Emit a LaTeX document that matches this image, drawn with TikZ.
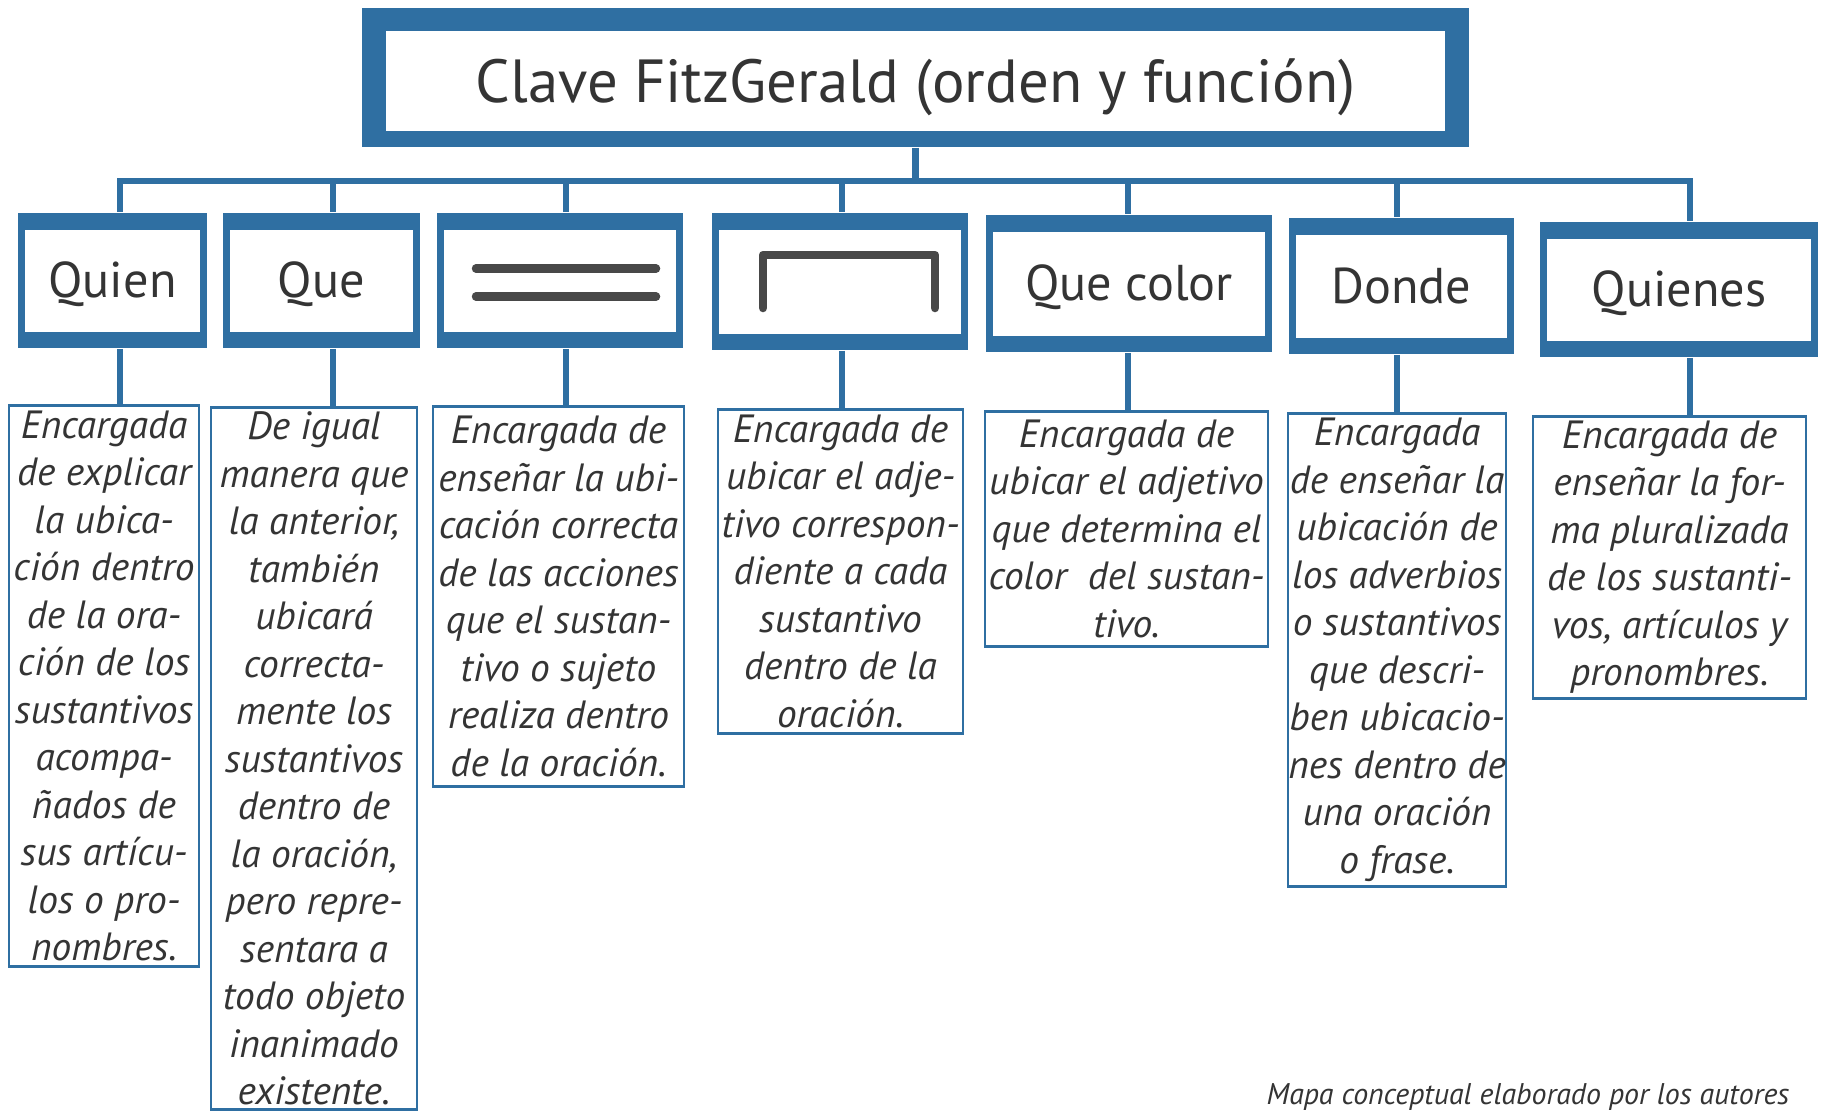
\documentclass[tikz,border=0pt]{standalone}
\usepackage{fontspec}
\setmainfont{PT Sans}

\definecolor{fitzblue}{RGB}{47,111,162}
\definecolor{ink}{RGB}{52,52,52}

\tikzset{
  link/.style={fitzblue, line width=0.065cm},
  hdrbox/.style={fill=fitzblue, inner sep=0pt, text=ink,
    text height=0.34cm, text depth=0cm,
    font=\fontsize{14.3}{17}\selectfont,
    path picture={\fill[white]
      ([shift={(0.07cm,-0.17cm)}]path picture bounding box.north west) rectangle
      ([shift={(-0.07cm,0.16cm)}]path picture bounding box.south east);}},
  titlebox/.style={fill=fitzblue, inner sep=0pt, text=ink,
    text height=0.49cm, text depth=0cm,
    font=\fontsize{17.3}{21}\selectfont,
    path picture={\fill[white]
      ([shift={(0.24cm,-0.23cm)}]path picture bounding box.north west) rectangle
      ([shift={(-0.24cm,0.16cm)}]path picture bounding box.south east);}},
  descbox/.style={draw=fitzblue, line width=0.025cm, inner sep=0pt, text=ink,
    anchor=north, align=center, font=\itshape\fontsize{11.2}{13.5}\selectfont},
  glyph/.style={draw=ink!90, line width=0.085cm, line cap=round, line join=round}
}

\begin{document}
\begin{tikzpicture}[x=0.01cm,y=-0.01cm]
  \fill[white] (0,0) rectangle (1824,1111);
  \useasboundingbox (0,0) rectangle (1824,1111);

  % titulo
  \node[titlebox, minimum width=11.07cm, minimum height=1.39cm] (clave) at (915.5,77.5)
    {Clave FitzGerald (orden y función)};

  % claves
  \node[hdrbox, minimum width=1.89cm, minimum height=1.35cm] (quien) at (112.5,280.5) {Quien};
  \node[hdrbox, minimum width=1.97cm, minimum height=1.35cm] (que) at (321.5,280.5) {Que};
  \node[hdrbox, minimum width=2.46cm, minimum height=1.35cm] (igual) at (560,280.5) {};
  \node[hdrbox, minimum width=2.56cm, minimum height=1.37cm] (corchete) at (840,281.5) {};
  \node[hdrbox, minimum width=2.86cm, minimum height=1.37cm] (color) at (1129,283.5) {Que color};
  \node[hdrbox, minimum width=2.25cm, minimum height=1.36cm] (donde) at (1401.5,286) {Donde};
  \node[hdrbox, minimum width=2.78cm, minimum height=1.35cm] (quienes) at (1679,289.5) {Quienes};

  % signos dentro de las claves
  \draw[glyph] ([shift={(-84,-12)}]igual.center) -- ++(180,0);
  \draw[glyph] ([shift={(-84,16)}]igual.center) -- ++(180,0);
  \draw[glyph] ([shift={(-77,26.5)}]corchete.center) -- ++(0,-53) -- ++(172,0) -- ++(0,53);

  % descripciones
  \node[descbox, minimum width=1.90cm, minimum height=5.61cm] (dquien) at (104,404)
    {Encargada\\de explicar\\la ubica-\\ción dentro\\de la ora-\\ción de los\\sustantivos\\acompa-\\ñados de\\sus artícu-\\los o pro-\\nombres.};
  \node[descbox, minimum width=2.06cm, minimum height=7.02cm] (dque) at (314,406)
    {De igual\\manera que\\la anterior,\\también\\ubicará\\correcta-\\mente los\\sustantivos\\dentro de\\la oración,\\pero repre-\\sentara a\\todo objeto\\inanimado\\existente.};
  \node[descbox, minimum width=2.51cm, minimum height=3.80cm] (digual) at (558.5,405)
    {Encargada de\\enseñar la ubi-\\cación correcta\\de las acciones\\que el sustan-\\tivo o sujeto\\realiza dentro\\de la oración.};
  \node[descbox, minimum width=2.45cm, minimum height=3.24cm] (dcorchete) at (840.5,408)
    {Encargada de\\ubicar el adje-\\tivo correspon-\\diente a cada\\sustantivo\\dentro de la\\oración.};
  \node[descbox, minimum width=2.83cm, minimum height=2.35cm] (dcolor) at (1126.5,410)
    {Encargada de\\ubicar el adjetivo\\que determina el\\color~ del sustan-\\tivo.};
  \node[descbox, minimum width=2.18cm, minimum height=4.73cm] (ddonde) at (1397,412)
    {Encargada\\de enseñar la\\ubicación de\\los adverbios\\o sustantivos\\que descri-\\ben ubicacio-\\nes dentro de\\una oración\\o frase.};
  \node[descbox, minimum width=2.73cm, minimum height=2.82cm] (dquienes) at (1669.5,415)
    {Encargada de\\enseñar la for-\\ma pluralizada\\de los sustanti-\\vos, artículos y\\pronombres.};

  % lineas
  \coordinate (busl) at (117,181);
  \coordinate (busr) at (1693,181);
  \draw[link] (busl) -- (busr);
  \draw[link] (clave.south) -- (clave.south |- busl);
  \foreach \k/\x in {quien/120, que/333, igual/566, corchete/842,
                     color/1128, donde/1397, quienes/1690}{
    \coordinate (sx) at (\x,0);
    \draw[link] (busl -| sx) -- (\k.north -| sx);
    \draw[link] (\k.south -| sx) -- (d\k.north -| sx);
  }

  \node[font=\itshape\fontsize{8.5}{10}\selectfont, text=ink, anchor=base west,
    inner sep=0pt] (autores) at (1266,1104) {Mapa conceptual elaborado por los autores};
\end{tikzpicture}
\end{document}
